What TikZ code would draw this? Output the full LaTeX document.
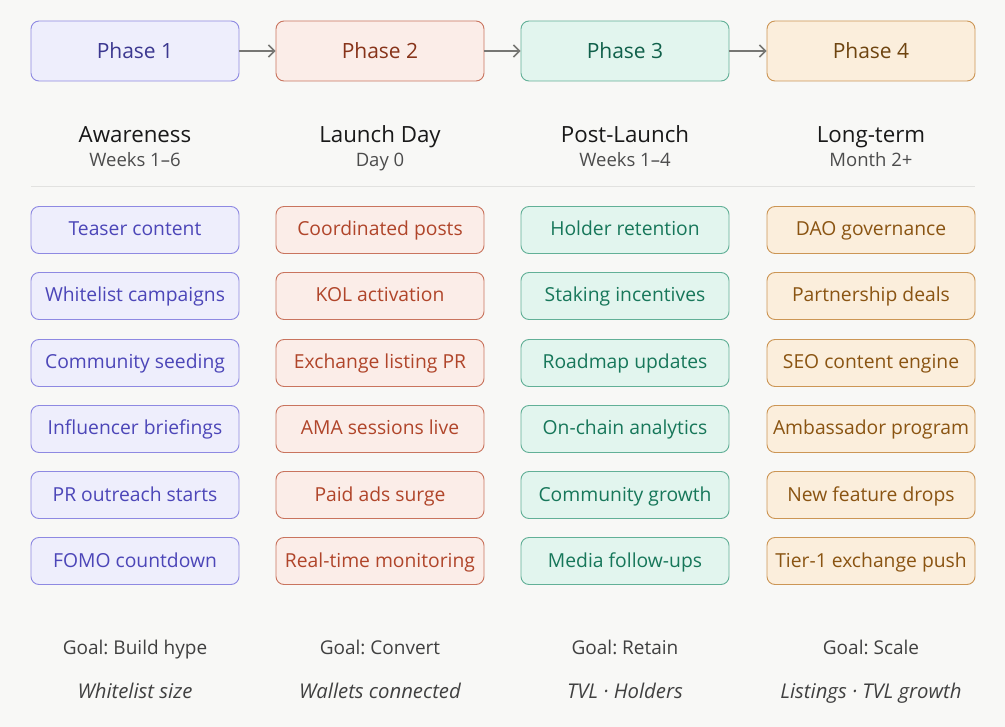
\documentclass[tikz,border=0pt]{standalone}
\usepackage{fontspec}
\setmainfont{Open Sans}
\frenchspacing
\usetikzlibrary{arrows.meta}

\definecolor{bgcol}{HTML}{F8F8F6}
\definecolor{rulecol}{HTML}{E2E2E0}
\definecolor{arrcol}{HTML}{777774}
\definecolor{fillA}{HTML}{EEEEFC}
\definecolor{drawA}{HTML}{8E89E2}
\definecolor{textA}{HTML}{4C46B8}
\definecolor{headA}{HTML}{3C3890}
\definecolor{fillB}{HTML}{FBEDE8}
\definecolor{drawB}{HTML}{C9745E}
\definecolor{textB}{HTML}{B0452A}
\definecolor{headB}{HTML}{873319}
\definecolor{fillC}{HTML}{E2F5EE}
\definecolor{drawC}{HTML}{62B097}
\definecolor{textC}{HTML}{17775A}
\definecolor{headC}{HTML}{10604A}
\definecolor{fillD}{HTML}{FBEEDC}
\definecolor{drawD}{HTML}{CC9655}
\definecolor{textD}{HTML}{8A5412}
\definecolor{headD}{HTML}{6E4410}

\tikzset{
    phasebox/.style={draw, rounded corners=8pt, line width=0.9pt,
        minimum width=208pt, minimum height=60pt, text height=15pt, text depth=0.5pt,
        font=\fontsize{21}{25}\selectfont},
    taskbox/.style={draw, rounded corners=8pt, line width=0.9pt,
        minimum width=208pt, minimum height=47pt, text height=14pt, text depth=2pt,
        font=\fontsize{19.3}{23}\selectfont},
    colA/.style={fill=fillA, draw=drawA, text=textA},
    colB/.style={fill=fillB, draw=drawB, text=textB},
    colC/.style={fill=fillC, draw=drawC, text=textC},
    colD/.style={fill=fillD, draw=drawD, text=textD},
    titletext/.style={anchor=base, font=\fontsize{22.3}{26}\selectfont, text=black!90},
    subtext/.style={anchor=base, font=\fontsize{18.5}{22}\selectfont, text=black!70},
    goaltext/.style={anchor=base, font=\fontsize{19}{23}\selectfont, text=black!75},
    metrictext/.style={anchor=base, font=\fontsize{20.3}{24}\selectfont\itshape, text=black!75},
    flow/.style={draw=arrcol, line width=1.5pt, -{Straight Barb[length=6pt, width=12pt]}},
}

\begin{document}
\begin{tikzpicture}[x=1pt, y=-1pt]
    \fill[bgcol] (0,0) rectangle (1005,727);
    \useasboundingbox (0,0) rectangle (1005,727);

    % phases
    \node[phasebox, colA, text=headA] (p1) at (135,51) {Phase 1};
    \node[phasebox, colB, text=headB] (p2) at (380,51) {Phase 2};
    \node[phasebox, colC, text=headC] (p3) at (625,51) {Phase 3};
    \node[phasebox, colD, text=headD] (p4) at (871,51) {Phase 4};

    \path[flow] (p1) edge (p2);
    \path[flow] (p2) edge (p3);
    \path[flow] (p3) edge (p4);

    % headings
    \node[titletext] (h1) at (135,143) {Awareness};
    \node[titletext] (h2) at (380,143) {Launch Day};
    \node[titletext] (h3) at (625,143) {Post-Launch};
    \node[titletext] (h4) at (871,143) {Long-term};
    \node[subtext] (s1) at (135,167) {Weeks 1–6};
    \node[subtext] (s2) at (380,167) {Day 0};
    \node[subtext] (s3) at (625,167) {Weeks 1–4};
    \node[subtext] (s4) at (871,167) {Month 2+};

    \coordinate (ruleL) at (31,186);
    \coordinate (ruleR) at (975,186);
    \draw[rulecol, line width=0.8pt] (ruleL) -- (ruleR);

    % tasks
    \begin{scope}[every node/.style={taskbox}]
        \node[colA] (a1) at (135,230) {Teaser content};
        \node[colA] (a2) at (135,296) {Whitelist campaigns};
        \node[colA] (a3) at (135,363) {Community seeding};
        \node[colA] (a4) at (135,429) {Influencer briefings};
        \node[colA] (a5) at (135,495) {PR outreach starts};
        \node[colA] (a6) at (135,561) {FOMO countdown};

        \node[colB] (b1) at (380,230) {Coordinated posts};
        \node[colB] (b2) at (380,296) {KOL activation};
        \node[colB] (b3) at (380,363) {Exchange listing PR};
        \node[colB] (b4) at (380,429) {AMA sessions live};
        \node[colB] (b5) at (380,495) {Paid ads surge};
        \node[colB] (b6) at (380,561) {Real-time monitoring};

        \node[colC] (c1) at (625,230) {Holder retention};
        \node[colC] (c2) at (625,296) {Staking incentives};
        \node[colC] (c3) at (625,363) {Roadmap updates};
        \node[colC] (c4) at (625,429) {On-chain analytics};
        \node[colC] (c5) at (625,495) {Community growth};
        \node[colC] (c6) at (625,561) {Media follow-ups};

        \node[colD] (d1) at (871,230) {DAO governance};
        \node[colD] (d2) at (871,296) {Partnership deals};
        \node[colD] (d3) at (871,363) {SEO content engine};
        \node[colD] (d4) at (871,429) {Ambassador program};
        \node[colD] (d5) at (871,495) {New feature drops};
        \node[colD] (d6) at (871,561) {Tier-1 exchange push};
    \end{scope}

    % goals and metrics
    \node[goaltext] (g1) at (135,654) {Goal: Build hype};
    \node[goaltext] (g2) at (380,654) {Goal: Convert};
    \node[goaltext] (g3) at (625,654) {Goal: Retain};
    \node[goaltext] (g4) at (871,654) {Goal: Scale};
    \node[metrictext] (m1) at (135,698) {Whitelist size};
    \node[metrictext] (m2) at (380,698) {Wallets connected};
    \node[metrictext] (m3) at (625,698) {TVL · Holders};
    \node[metrictext] (m4) at (871,698) {Listings · TVL growth};
\end{tikzpicture}
\end{document}
